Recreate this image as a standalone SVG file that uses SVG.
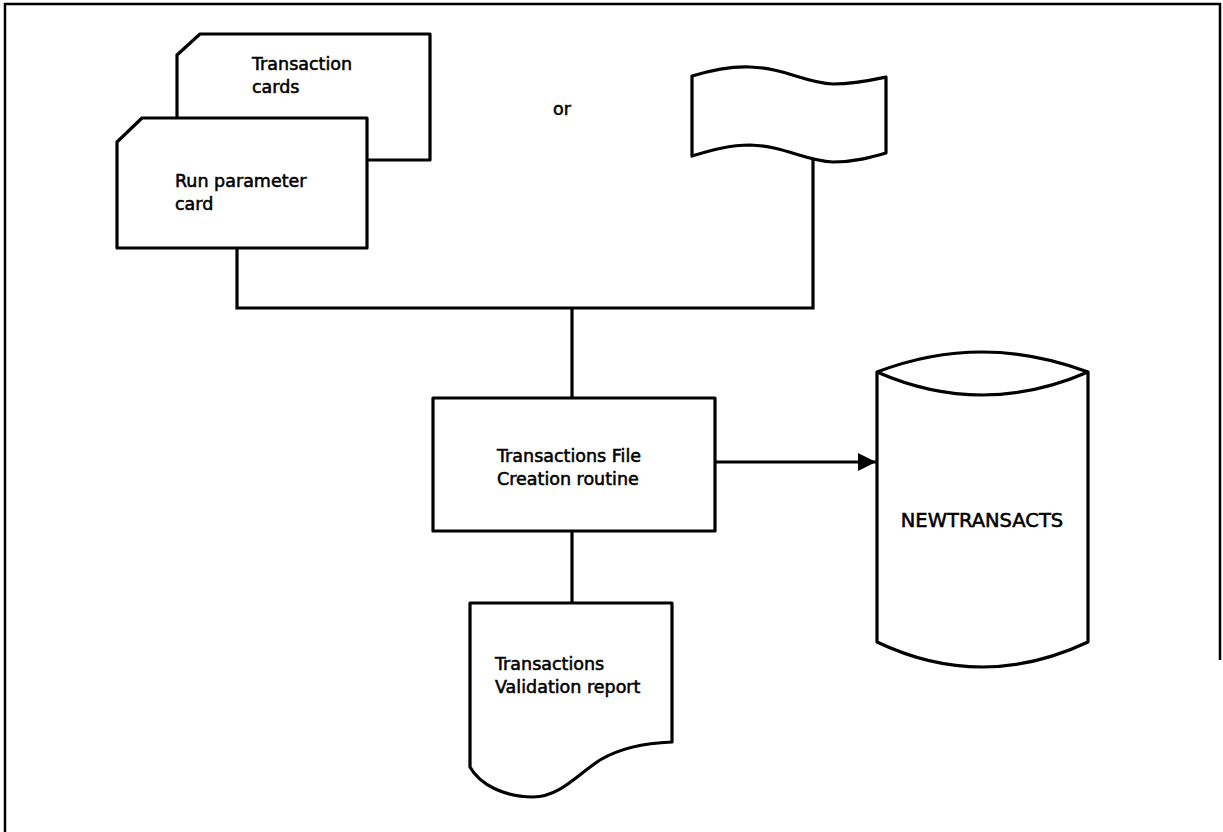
<svg xmlns="http://www.w3.org/2000/svg" width="1223" height="832" viewBox="0 0 1223 832">
  <style>
    .shape { fill: #ffffff; stroke: #000000; stroke-width: 3.2; stroke-linejoin: round; }
    .line { fill: none; stroke: #000000; stroke-width: 3.2; }
    .frame { fill: none; stroke: #000000; stroke-width: 2.5; }
    .label { font-family: "DejaVu Sans", "Liberation Sans", sans-serif; font-size: 17.5px; fill: #000000; stroke: #000000; stroke-width: 0.55; }
    .big { font-size: 19.5px; }
  </style>
  <defs>
    <marker id="arrow" markerUnits="userSpaceOnUse" markerWidth="18" markerHeight="18" viewBox="0 0 16 16" refX="16" refY="8" orient="auto">
      <path d="M0,0 L16,8 L0,16 Z" fill="#000000"/>
    </marker>
  </defs>

  <rect width="1223" height="832" fill="#ffffff"/>

  <!-- page frame (open at the bottom) -->
  <path class="frame" d="M5,832 V4 H1220 V660"/>

  <!-- connectors -->
  <g id="connectors">
    <path class="line" d="M237,248 V308 H813 V160"/>
    <path class="line" d="M572,308 V398"/>
    <path class="line" d="M572,531 V603"/>
    <path class="line" d="M715,462 H876" marker-end="url(#arrow)"/>
  </g>

  <!-- punched card deck -->
  <g id="transaction-cards">
    <path class="shape" d="M200,34 H430 V160 H177 V55 Z"/>
    <text class="label" x="252" y="70">Transaction</text>
    <text class="label" x="252" y="93">cards</text>
  </g>
  <g id="run-parameter-card">
    <path class="shape" d="M142,118 H367 V248 H117 V142 Z"/>
    <text class="label" x="175" y="187">Run parameter</text>
    <text class="label" x="175" y="210">card</text>
  </g>

  <text id="or-label" class="label" x="553" y="115">or</text>

  <!-- paper tape -->
  <g id="paper-tape">
    <path class="shape" d="M692,76 C712,70 730,66 750,67 C785,68 805,83 833,84 C855,84 872,80 886,77 V153 C872,157 855,162 833,162 C805,161 785,146 750,145 C730,145 712,150 692,156 Z"/>
  </g>

  <!-- process box -->
  <g id="creation-routine">
    <rect class="shape" x="433" y="398" width="282" height="133"/>
    <text class="label" x="497" y="462">Transactions File</text>
    <text class="label" x="497" y="485">Creation routine</text>
  </g>

  <!-- printed report -->
  <g id="validation-report">
    <path class="shape" d="M470,603 H672 V742 C645,743 620,748 600,760 C578,774 560,797 533,797 C505,797 480,785 470,767 Z"/>
    <text class="label" x="495" y="670">Transactions</text>
    <text class="label" x="495" y="693">Validation report</text>
  </g>

  <!-- disk file -->
  <g id="newtransacts">
    <path class="shape" d="M877,372 Q982,332 1088,372 V642 Q982,692 877,642 Z"/>
    <path class="line" d="M877,372 Q982,418 1088,372"/>
    <text class="label big" x="982" y="527" text-anchor="middle">NEWTRANSACTS</text>
  </g>
</svg>
